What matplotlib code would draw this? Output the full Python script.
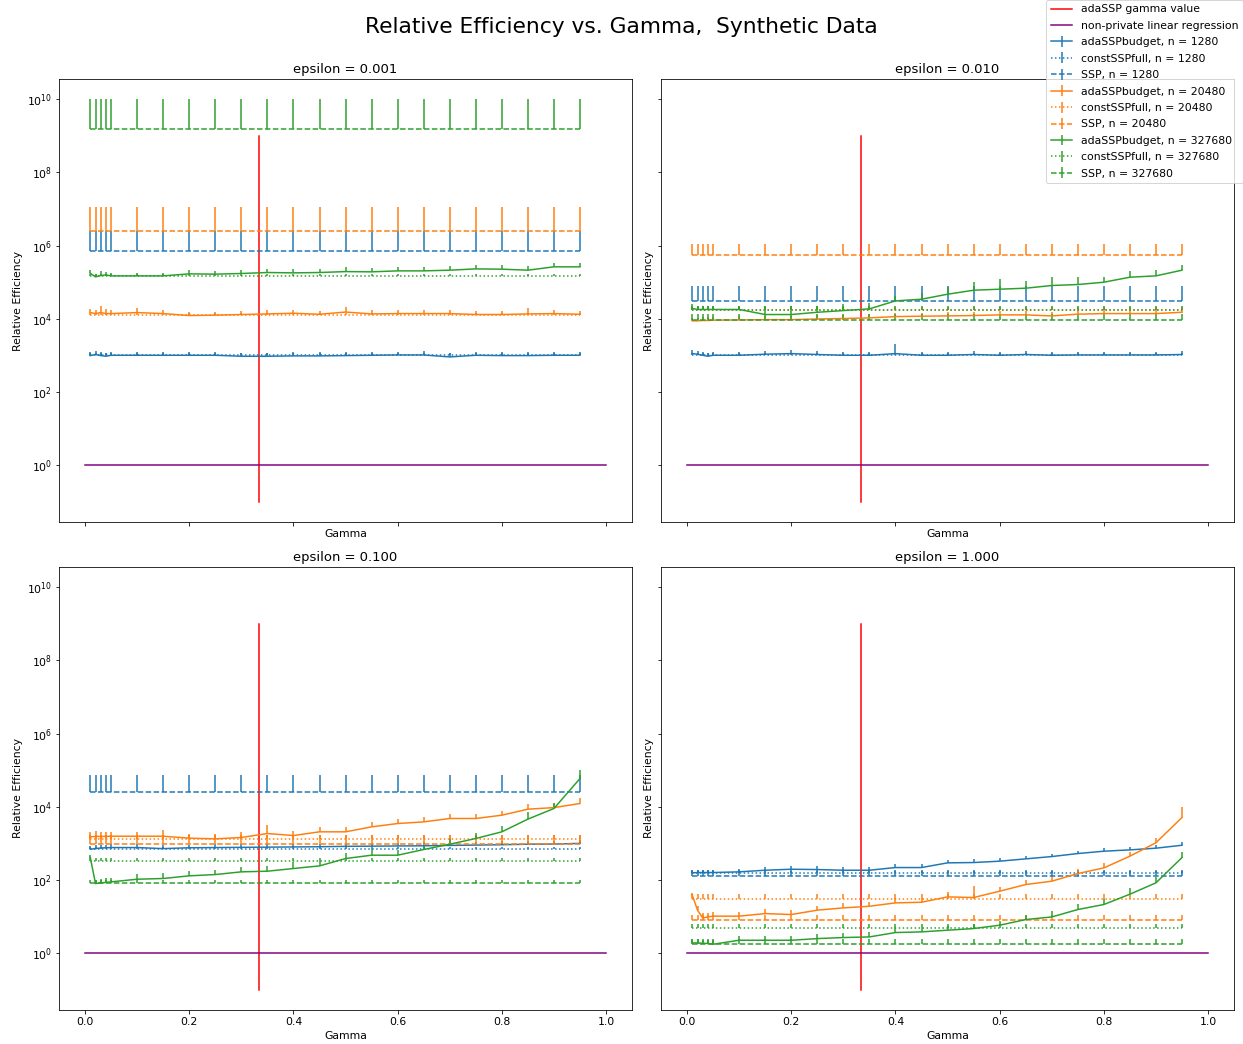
import numpy as np
import matplotlib
matplotlib.use("Agg")
import matplotlib.pyplot as plt
from matplotlib.ticker import NullLocator

gammas = [0.01, 0.02, 0.03, 0.04, 0.05, 0.1, 0.15, 0.2, 0.25, 0.3, 0.35, 0.4,
          0.45, 0.5, 0.55, 0.6, 0.65, 0.7, 0.75, 0.8, 0.85, 0.9, 0.95]
sizes = [1280, 20480, 327680]
epsilons = [0.001, 0.01, 0.1, 1.0]
ada_gamma = 1 / 3

# adaSSPbudget, epsilon = 0.001
ada1_n1280 = [990, 1060, 990, 950, 1010, 1010, 1010, 1010, 1010, 950, 950, 970,
              970, 990, 1010, 1030, 1030, 910, 1010, 990, 990, 1010, 1010]
ada1_n1280_err = [250, 260, 250, 240, 250, 250, 250, 260, 250, 240, 240, 250,
                  250, 250, 260, 250, 260, 240, 260, 250, 250, 260, 260]
ada1_n20480 = [14800, 13900, 14800, 13900, 13900, 14800, 13900, 12300, 12600, 13100,
               13600, 14200, 13300, 15300, 13600, 13900, 13900, 13900, 13100, 13100,
               13600, 13900, 13300]
ada1_n20480_err = [3500, 3500, 7000, 5000, 4000, 5500, 3500, 3000, 3000, 3000, 3500,
                   3500, 3000, 6000, 3500, 3500, 3500, 4000, 3000, 3000, 6000, 4000, 3500]
ada1_n327680 = [175000, 140000, 152000, 158000, 149000, 149000, 149000, 169000,
                166000, 173000, 184000, 180000, 184000, 195000, 192000, 204000,
                204000, 213000, 231000, 227000, 213000, 263000, 263000]
ada1_n327680_err = [40000, 30000, 50000, 35000, 35000, 35000, 35000, 45000, 40000,
                    45000, 50000, 45000, 50000, 60000, 55000, 60000, 55000, 60000,
                    65000, 60000, 60000, 70000, 80000]

# adaSSPbudget, epsilon = 0.01
ada2_n1280 = [1120, 1080, 1010, 950, 1010, 1010, 1080, 1120, 1060, 1010, 1010, 1120,
              1010, 1010, 1060, 1010, 1060, 1010, 1030, 1030, 1030, 1030, 1060]
ada2_n1280_err = [250, 250, 250, 230, 250, 250, 260, 270, 250, 250, 250, 900,
                  250, 250, 260, 250, 260, 250, 250, 250, 250, 250, 260]
ada2_n20480 = [8800, 8800, 9000, 9000, 9200, 9300, 9500, 9500, 9900, 10200, 10600,
               11500, 11800, 12000, 12300, 12800, 12800, 12000, 13400, 13900, 13900,
               13900, 15100]
ada2_n20480_err = [2000, 2000, 2000, 2000, 2200, 2300, 2400, 2500, 2500, 2600, 2700,
                   3000, 3000, 3200, 3200, 3500, 3500, 3200, 3500, 3600, 3600, 3600, 4000]
ada2_n327680 = [19100, 18000, 18000, 18000, 18000, 18000, 13100, 13100, 15100, 16800,
                18700, 30900, 34300, 47000, 60400, 64400, 68600, 81300, 86400, 100000,
                137000, 149000, 213000]
ada2_n327680_err = [6000, 5000, 5000, 5000, 5000, 5000, 9000, 9000, 8000, 8000, 9000,
                    12000, 16000, 25000, 40000, 55000, 40000, 60000, 50000, 40000,
                    70000, 60000, 80000]

# adaSSPbudget, epsilon = 0.1
ada3_n1280 = [695, 720, 750, 760, 770, 770, 720, 760, 770, 780, 790, 800, 810, 830,
              840, 850, 860, 880, 900, 920, 950, 960, 1000]
ada3_n1280_err = [150, 160, 160, 160, 170, 170, 160, 170, 170, 170, 180, 180, 180,
                  190, 190, 190, 200, 200, 200, 210, 220, 220, 230]
ada3_n20480 = [1510, 1550, 1550, 1560, 1570, 1570, 1570, 1390, 1330, 1450, 1860,
               1640, 2070, 2070, 2830, 3490, 3870, 4790, 4790, 5890, 8600, 9500, 12300]
ada3_n20480_err = [500, 600, 500, 500, 500, 500, 700, 450, 450, 600, 1300, 550, 700,
                   700, 1000, 1200, 1300, 1600, 1600, 2000, 3000, 3200, 5000]
ada3_n327680 = [410, 80, 83, 86, 89, 105, 110, 130, 141, 167, 174, 206, 243, 386,
                476, 476, 680, 950, 1360, 2070, 4600, 8970, 59000]
ada3_n327680_err = [60, 20, 25, 25, 25, 40, 45, 50, 45, 60, 60, 100, 90, 160, 230,
                    200, 250, 350, 600, 900, 2500, 4000, 41000]

# adaSSPbudget, epsilon = 1
ada4_n1280 = [157, 160, 160, 160, 160, 167, 185, 197, 193, 185, 185, 219, 219, 294,
              300, 327, 378, 437, 528, 612, 665, 740, 890]
ada4_n1280_err = [30, 30, 30, 30, 30, 35, 45, 50, 45, 45, 45, 50, 50, 60, 65, 70,
                  80, 90, 110, 130, 140, 160, 200]
ada4_n20480 = [38.5, 15.0, 9.2, 9.8, 10.3, 10.3, 12.1, 11.4, 15.0, 17.3, 19.2, 23.7,
               24.7, 34.6, 33.2, 49.4, 75.2, 92.7, 150, 214, 447, 1040, 5100]
ada4_n20480_err = [5, 4, 3, 3, 3, 3, 4, 4, 5, 6, 6, 8, 8, 12, 35, 15, 25, 40, 50,
                   80, 150, 400, 4850]
ada4_n327680 = [1.91, 1.91, 1.87, 1.85, 1.76, 2.26, 2.26, 2.26, 2.51, 2.68, 2.79,
                3.67, 3.83, 4.25, 4.72, 5.82, 8.3, 9.8, 15.6, 21.4, 40.9, 83.6, 410]
ada4_n327680_err = [0.5, 0.5, 0.5, 0.5, 0.5, 0.7, 0.7, 0.7, 0.8, 0.9, 0.9, 1.2, 1.2,
                    1.4, 1.6, 2.0, 3.0, 4.0, 6.0, 9.0, 18, 35, 180]

# constSSPfull and SSP (flat in gamma), order n = 1280, 20480, 327680
const1 = [1000, 12600, 146000]
const1_err = [150, 2000, 25000]
ssp1 = [720000, 2430000, 1.58e9]
ssp1_err = [1710000, 8600000, 8.42e9]

const2 = [1050, 17500, 17900]
const2_err = [150, 3000, 4200]
ssp2 = [31600, 570000, 9200]
ssp2_err = [47000, 570000, 4700]

const3 = [720, 1300, 327]
const3_err = [100, 400, 75]
ssp3 = [25500, 990, 83]
ssp3_err = [47500, 700, 20]

const4 = [160, 30, 5.0]
const4_err = [25, 11, 1.2]
ssp4 = [130, 8.3, 1.84]
ssp4_err = [50, 3.1, 0.66]

ada_vals = [[ada1_n1280, ada1_n20480, ada1_n327680],
            [ada2_n1280, ada2_n20480, ada2_n327680],
            [ada3_n1280, ada3_n20480, ada3_n327680],
            [ada4_n1280, ada4_n20480, ada4_n327680]]
ada_errs = [[ada1_n1280_err, ada1_n20480_err, ada1_n327680_err],
            [ada2_n1280_err, ada2_n20480_err, ada2_n327680_err],
            [ada3_n1280_err, ada3_n20480_err, ada3_n327680_err],
            [ada4_n1280_err, ada4_n20480_err, ada4_n327680_err]]
const_vals = [const1, const2, const3, const4]
const_errs = [const1_err, const2_err, const3_err, const4_err]
ssp_vals = [ssp1, ssp2, ssp3, ssp4]
ssp_errs = [ssp1_err, ssp2_err, ssp3_err, ssp4_err]

plt.rcParams['font.size'] = 10.9
plt.rcParams['axes.titlesize'] = 13.1

colors = ['C0', 'C1', 'C2']
g = np.array(gammas)
zeros = np.zeros(len(gammas))

fig, axes = plt.subplots(2, 2, sharex=True, sharey=True,
                         figsize=(1243 / 72, 1044 / 72), dpi=72)
fig.subplots_adjust(left=0.0475, right=0.9928, top=0.9243, bottom=0.0326,
                    wspace=0.0506, hspace=0.1016)

for k, ax in enumerate(axes.flat):
    for i, n in enumerate(sizes):
        c = colors[i]
        ax.errorbar(g, ada_vals[k][i], yerr=[zeros, ada_errs[k][i]], color=c,
                    ls='-', label='adaSSPbudget, n = %d' % n)
        cv = np.full(len(g), const_vals[k][i])
        ce = np.full(len(g), const_errs[k][i])
        ax.errorbar(g, cv, yerr=[zeros, ce], color=c, ls=':',
                    label='constSSPfull, n = %d' % n)
        sv = np.full(len(g), ssp_vals[k][i])
        se = np.full(len(g), ssp_errs[k][i])
        ax.errorbar(g, sv, yerr=[zeros, se], color=c, ls='--',
                    label='SSP, n = %d' % n)
    ax.plot([ada_gamma, ada_gamma], [0.1, 1e9], color='red', label='adaSSP gamma value')
    ax.plot([0, 1], [1, 1], color='purple', label='non-private linear regression')
    ax.set_yscale('log')
    ax.set_ylim(10 ** -1.55, 10 ** 10.55)
    ax.set_yticks([1, 1e2, 1e4, 1e6, 1e8, 1e10])
    ax.yaxis.set_minor_locator(NullLocator())
    ax.set_xlabel('Gamma')
    ax.set_ylabel('Relative Efficiency')
    ax.set_title('epsilon = %.3f' % epsilons[k])

handles, labels = axes[0, 0].get_legend_handles_labels()
fig.legend(handles, labels, loc='upper right', bbox_to_anchor=(1.0, 1.0),
           borderaxespad=0, labelspacing=0.59)
fig.suptitle('Relative Efficiency vs. Gamma,  Synthetic Data', fontsize=21.7, y=0.984)

fig.savefig('out.png', dpi=72)
